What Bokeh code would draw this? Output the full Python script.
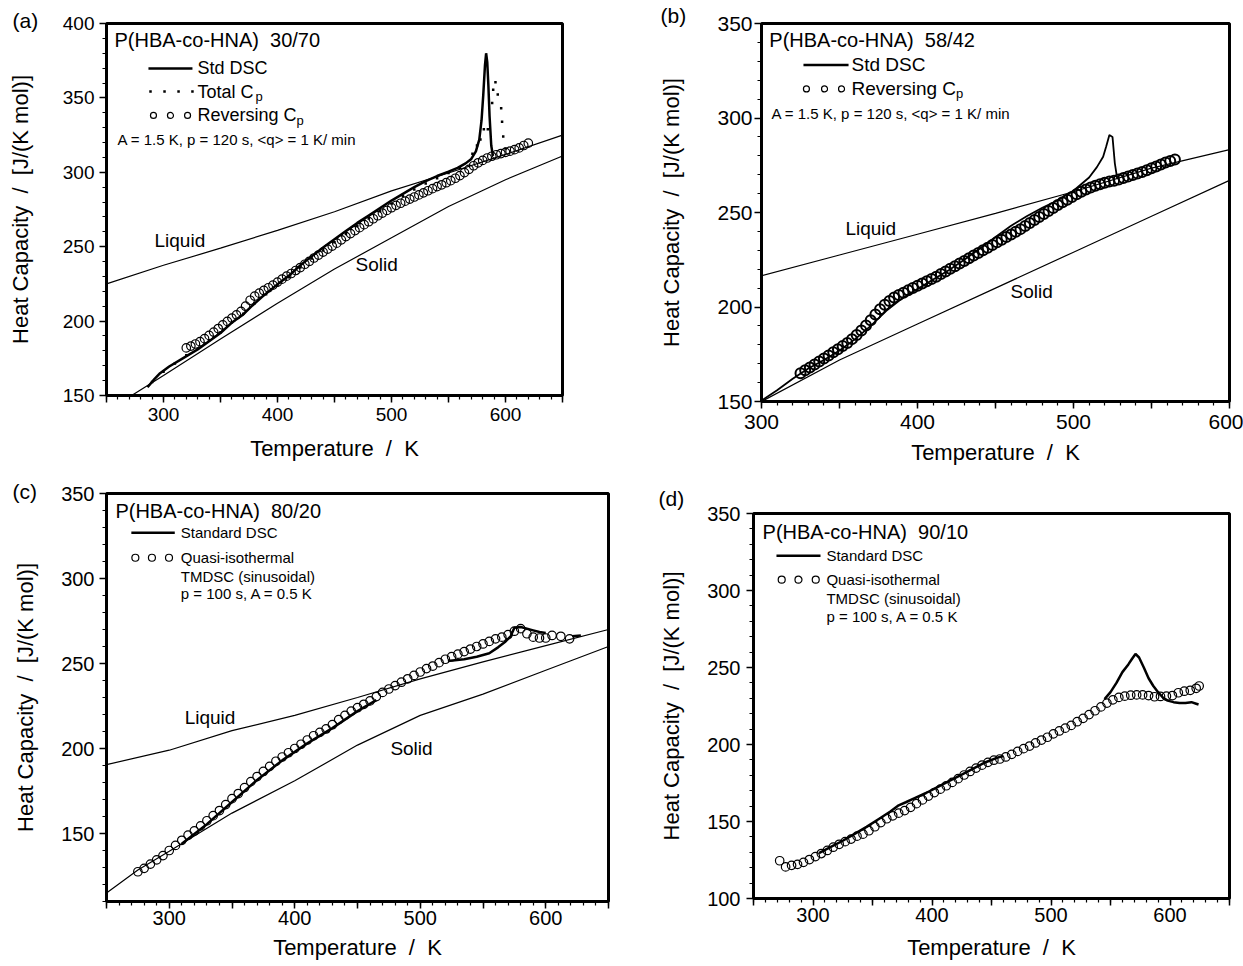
import numpy as np
from bokeh.plotting import figure
from bokeh.models import Range1d, FixedTicker
from bokeh.layouts import column, row
from bokeh.embed import file_html
from bokeh.resources import INLINE
from bokeh.core.properties import value

FONT = "Liberation Sans"
NB = "\u00a0"
nan = np.nan

# ---------------- panel (a)  P(HBA-co-HNA) 30/70 ----------------
a_liquid_T = [250, 300, 350, 400, 450, 500, 550, 600, 650]
a_liquid_cp = [225.0, 237.5, 249.0, 261.0, 273.5, 287.5, 299.5, 312.0, 325.0]
a_solid_T = [270, 300, 350, 400, 450, 500, 550, 600, 650]
a_solid_cp = [149.0, 163.5, 188.0, 212.0, 235.0, 256.0, 277.0, 295.0, 311.0]
a_dsc_T = [286, 292, 297, 305, 318, 330, 340, 350, 360, 370, 378, 386, 394, 402, 410,
           420, 430, 440, 450, 460, 470, 480, 490, 500, 510, 520, 530, 540, 550, 558,
           565, 570, 574, 577, 579, 580.5, 582, 583, 584, 585, 586, 587.5, 589]
a_dsc_cp = [155.5, 161.0, 165.0, 169.5, 175.5, 181.0, 186.5, 192.0, 199.0, 204.5, 210.5,
            216.0, 221.0, 226.0, 230.5, 237.5, 243.5, 249.5, 255.0, 260.5, 266.0, 271.0,
            276.0, 281.0, 285.5, 290.0, 294.0, 297.5, 300.5, 303.0, 306.0, 309.0, 314.0,
            322.0, 335.0, 352.0, 372.0, 380.0, 374.0, 358.0, 338.0, 318.0, 311.0]
a_total_T = [290, 300, 310, 320, 330, 340, 350, 360, 370, 380, 390, 400, 410, 420, 430,
             440, 450, 460, 470, 480, 490, 500, 510, 520, 530, 540, 550, 560, 571, 575,
             578, 581, 584.5, 588.3, 589.2, 591.2, 593.2, 596.2, 597, 598, 600]
a_total_cp = [159.0, 166.0, 171.5, 177.0, 181.5, 187.0, 192.5, 199.0, 205.0, 212.0, 218.0,
              224.0, 229.5, 236.0, 242.0, 247.5, 253.0, 258.5, 264.0, 269.0, 274.0, 279.0,
              284.0, 288.5, 292.5, 296.0, 299.5, 303.0, 312.4, 318.0, 322.0, 329.0, 329.0,
              346.6, 355.4, 360.6, 352.3, 343.0, 334.0, 324.0, 316.0]
a_rev_T = [320, 324, 328, 332, 336, 340, 344, 348, 352, 356, 360, 364, 368, 372, 376, 380,
           384, 388, 392, 396, 400, 404, 408, 412, 416, 420, 424, 428, 432, 436, 440, 444,
           448, 452, 456, 460, 464, 468, 472, 476, 480, 484, 488, 492, 496, 500, 504, 508,
           512, 516, 520, 524, 528, 532, 536, 540, 544, 548, 552, 556, 560, 564, 568, 572,
           576, 580, 584, 588, 592, 596, 600, 604, 608, 612, 616, 620]
a_rev_cp = [182.0, 183.2, 184.6, 186.2, 188.2, 190.4, 192.6, 195.0, 197.4, 199.8, 202.0,
            204.2, 206.5, 210.0, 214.0, 216.8, 218.8, 220.6, 222.4, 224.2, 226.2, 228.2,
            230.2, 232.0, 234.0, 236.0, 238.2, 240.2, 242.4, 244.4, 246.4, 248.4, 250.4,
            252.4, 254.6, 256.8, 258.8, 260.8, 262.8, 264.8, 266.8, 268.8, 270.8, 272.6,
            274.4, 276.2, 277.8, 279.2, 280.6, 282.0, 283.4, 284.8, 286.2, 287.6, 289.0,
            290.4, 291.6, 293.0, 294.4, 296.0, 297.8, 299.8, 302.0, 304.4, 306.4, 308.0,
            309.6, 310.8, 311.8, 312.6, 313.4, 314.2, 315.2, 316.4, 318.0, 319.6]

# ---------------- panel (b)  P(HBA-co-HNA) 58/42 ----------------
b_liquid_T = [300, 350, 400, 450, 500, 550, 600]
b_liquid_cp = [216.5, 227.5, 238.5, 249.5, 261.0, 273.5, 283.3]
b_solid_T = [300, 350, 400, 450, 500, 550, 600]
b_solid_cp = [150.0, 172.0, 191.0, 210.0, 229.0, 248.0, 267.0]
b_dsc_T = [300, 310, 320, 330, 340, 350, 360, 370, 380, 390, 400, 410, 420, 430, 440,
           450, 460, 470, 480, 490, 500, 510, 515, 519, 521, 523, 525, 526.5, 528]
b_dsc_cp = [150.5, 156.0, 162.0, 167.5, 172.0, 177.0, 183.0, 190.0, 198.0, 204.5, 209.5,
            214.5, 219.5, 225.0, 231.0, 237.0, 243.0, 248.0, 252.5, 256.5, 261.5, 268.5,
            274.0, 279.5, 285.0, 291.0, 290.0, 276.0, 268.0]
b_rev_T = [325, 328, 331, 334, 337, 340, 343, 346, 349, 352, 355, 358, 361, 364, 367, 370,
           373, 376, 379, 382, 385, 388, 391, 394, 397, 400, 403, 406, 409, 412, 415, 418,
           421, 424, 427, 430, 433, 436, 439, 442, 445, 448, 451, 454, 457, 460, 463, 466,
           469, 472, 475, 478, 481, 484, 487, 490, 493, 496, 499, 502, 505, 508, 511, 514,
           517, 520, 523, 526, 529, 532, 535, 538, 541, 544, 547, 550, 553, 556, 559, 562,
           565]
b_rev_cp = [165.0, 166.5, 168.0, 169.6, 171.2, 172.8, 174.4, 176.0, 177.6, 179.3, 181.0,
            183.0, 185.2, 187.6, 190.2, 193.0, 196.0, 198.8, 201.2, 203.2, 205.0, 206.4,
            207.6, 208.8, 210.0, 211.2, 212.4, 213.6, 214.8, 216.0, 217.4, 218.8, 220.2,
            221.6, 223.0, 224.4, 225.8, 227.2, 228.6, 230.0, 231.4, 232.8, 234.2, 235.6,
            237.0, 238.4, 239.8, 241.2, 242.8, 244.4, 246.0, 247.6, 249.2, 250.8, 252.4,
            254.0, 255.4, 256.8, 258.2, 259.6, 261.0, 262.2, 263.2, 264.2, 265.0, 265.8,
            266.4, 266.8, 267.4, 268.2, 269.0, 269.8, 270.6, 271.4, 272.4, 273.4, 274.4,
            275.4, 276.4, 277.2, 278.0]

# ---------------- panel (c)  P(HBA-co-HNA) 80/20 ----------------
c_liquid_T = [250, 300, 350, 400, 450, 500, 550, 600, 650]
c_liquid_cp = [190.5, 199.0, 210.5, 219.5, 230.0, 241.0, 251.0, 260.5, 270.0]
c_solid_T = [250, 275, 300, 350, 400, 450, 500, 550, 600, 650]
c_solid_cp = [115.0, 128.5, 139.5, 162.0, 181.0, 202.0, 219.5, 232.0, 246.0, 260.0]
c_dsc_T = [310, 330, 350, 370, 390, 410, 430, 450, 465, nan, 522, 535, 545, 555, 562, 568,
           572, 575, 580, 585, 590, 595, 600, nan, 621, 628]
c_dsc_cp = [144.0, 155.5, 168.5, 181.5, 193.0, 203.0, 212.0, 222.0, 228.5, nan, 251.5,
            252.5, 254.0, 256.0, 259.5, 263.0, 266.0, 271.0, 271.5, 270.5, 269.5, 268.5,
            268.0, nan, 266.0, 266.5]
c_rev_T = [275, 280, 285, 290, 295, 300, 305, 310, 315, 320, 325, 330, 335, 340, 345, 350,
           355, 360, 365, 370, 375, 380, 385, 390, 395, 400, 405, 410, 415, 420, 425, 430,
           435, 440, 445, 450, 455, 460, 465, 470, 475, 480, 485, 490, 495, 500, 505, 510,
           515, 520, 525, 530, 535, 540, 545, 550, 555, 560, 565, 570, 575, 580, 585, 590,
           595, 600, 605, 612, 619]
c_rev_cp = [127.5, 129.5, 132.0, 134.5, 137.0, 140.0, 143.0, 146.0, 149.0, 151.5, 154.5,
            157.5, 160.5, 163.5, 167.0, 170.5, 173.5, 177.0, 180.5, 183.5, 186.5, 189.5,
            192.5, 195.0, 197.5, 200.0, 202.5, 205.0, 207.5, 209.5, 211.5, 214.0, 217.0,
            219.5, 222.0, 224.0, 226.0, 228.0, 230.5, 233.0, 235.0, 237.0, 239.0, 241.0,
            243.0, 245.0, 247.0, 248.5, 250.5, 252.5, 254.0, 255.5, 257.0, 258.5, 260.0,
            261.5, 263.0, 264.5, 265.5, 267.0, 269.0, 270.5, 267.5, 265.5, 265.0, 265.0,
            266.5, 266.0, 264.5]

# ---------------- panel (d)  P(HBA-co-HNA) 90/10 ----------------
d_dsc_T = [305, 315, 325, 335, 345, 355, 365, 372, 378, 385, 395, 405, 415, 425, 435, 445,
           455, 460, nan, 545, 550, 555, 560, 565, 568, 571, 574, 578, 582, 586, 590, 594,
           598, 603, 608, 613, 618, 622, 624]
d_dsc_cp = [129.5, 133.5, 137.5, 142.0, 146.5, 151.5, 156.5, 160.5, 162.5, 165.0, 168.5,
            172.5, 176.5, 180.5, 184.5, 188.5, 191.5, 192.5, nan, 229.5, 234.0, 240.0,
            247.0, 252.0, 255.5, 258.8, 256.5, 250.0, 243.0, 238.0, 234.0, 230.5, 228.5,
            227.5, 227.0, 227.0, 227.5, 226.5, 226.0]
d_rev_T = [272, 277, 282, 287, 292, 297, 302, 307, 312, 317, 322, 327, 332, 337, 342, 347,
           352, 357, 362, 367, 372, 377, 382, 387, 392, 397, 402, 407, 412, 417, 422, 427,
           432, 437, 442, 447, 452, 457, 462, 467, 472, 477, 482, 487, 492, 497, 502, 507,
           512, 517, 522, 527, 532, 537, 542, 547, 552, 557, 562, 567, 572, 577, 582, 587,
           592, 597, 602, 607, 612, 617, 622, 624.5]
d_rev_cp = [124.5, 120.5, 121.5, 122.2, 123.5, 125.3, 127.2, 129.2, 131.2, 133.3, 135.2,
            136.9, 138.6, 140.5, 141.8, 144.0, 146.6, 149.3, 151.8, 153.7, 155.4, 157.1,
            159.2, 161.6, 164.0, 166.5, 168.8, 171.0, 173.2, 175.4, 177.8, 180.2, 182.5,
            184.7, 186.6, 188.4, 189.8, 190.6, 191.9, 193.6, 195.5, 197.3, 199.0, 201.0,
            202.9, 204.7, 206.9, 208.8, 210.6, 212.4, 214.8, 217.0, 219.4, 221.9, 224.4,
            226.9, 229.0, 230.6, 231.4, 232.0, 232.2, 232.2, 231.8, 231.0, 231.2, 231.4,
            231.8, 233.6, 234.6, 235.2, 236.5, 238.0]

X_TITLE = "Temperature" + NB + NB + "/" + NB + NB + "K"
Y_TITLE = "Heat Capacity" + NB + NB + "/" + NB + NB + "[J/(K mol)]"


def make_fig(width, height, left, right, top, bottom, xr, yr, tick_px,
             x_std=10, x_lstd=3, y_std=5, y_lstd=27):
    p = figure(width=width, height=height, x_range=Range1d(*xr), y_range=Range1d(*yr),
               toolbar_location=None, output_backend="svg",
               min_border_left=left, min_border_right=right,
               min_border_top=top, min_border_bottom=bottom)
    p.background_fill_color = "white"
    p.border_fill_color = "white"
    p.outline_line_color = "black"
    p.outline_line_width = 3
    p.xgrid.visible = False
    p.ygrid.visible = False
    xmaj = [v for v in range(int(xr[0]), int(xr[1]) + 1) if v % 50 == 0]
    xmin = [v for v in range(int(xr[0]), int(xr[1]) + 1) if v % 10 == 0]
    ymaj = [v for v in range(int(yr[0]), int(yr[1]) + 1) if v % 50 == 0]
    ymin = [v for v in range(int(yr[0]), int(yr[1]) + 1) if v % 10 == 0]
    p.xaxis.ticker = FixedTicker(ticks=xmaj, minor_ticks=xmin)
    p.yaxis.ticker = FixedTicker(ticks=ymaj, minor_ticks=ymin)
    p.xaxis.major_label_overrides = {v: "" for v in xmaj if v % 100 != 0}
    for ax in (p.xaxis[0], p.yaxis[0]):
        ax.axis_line_width = 2.5
        ax.axis_line_color = "black"
        ax.major_tick_line_width = 1.5
        ax.minor_tick_line_width = 1.2
        ax.major_tick_in = 0
        ax.major_tick_out = 7
        ax.minor_tick_in = 0
        ax.minor_tick_out = 4
        ax.major_label_text_font = FONT
        ax.major_label_text_font_size = f"{tick_px}px"
        ax.major_label_text_color = "black"
        ax.axis_label_text_font = FONT
        ax.axis_label_text_font_size = "22px"
        ax.axis_label_text_font_style = "normal"
        ax.axis_label_text_color = "black"
    p.xaxis.major_label_standoff = x_lstd
    p.xaxis.axis_label = X_TITLE
    p.xaxis.axis_label_standoff = x_std
    p.yaxis.major_label_standoff = y_std
    p.yaxis.axis_label = Y_TITLE
    p.yaxis.axis_label_standoff = y_lstd
    return p


def panel_tag(p, s, offset, standoff):
    t = p.title
    t.text = s
    t.align = "left"
    t.offset = offset
    t.text_font = FONT
    t.text_font_size = "21px"
    t.text_font_style = "normal"
    t.text_color = "black"
    t.vertical_align = "bottom"
    try:
        t.standoff = standoff
    except Exception:
        t.standoff = 0


def txt(p, x, y, s, size, align="left", baseline="middle", xo=0, yo=0):
    p.text(x=[x], y=[y], text=[s], text_font=value(FONT), text_font_size=value(f"{size}px"),
           text_align=align, text_baseline=baseline, x_offset=xo, y_offset=yo,
           text_color="black")


def ref_lines(p, lt, lc, st, sc):
    p.line(lt, lc, line_color="black", line_width=1.2)
    p.line(st, sc, line_color="black", line_width=1.2)


# ---------------- figure (a) ----------------
pa = make_fig(628, 478, 106, 66, 23, 83, (250, 650), (150, 400), 19,
              x_std=12, x_lstd=5, y_std=5, y_lstd=27)
panel_tag(pa, "(a)", -94, -16)
ref_lines(pa, a_liquid_T, a_liquid_cp, a_solid_T, a_solid_cp)
pa.line(a_dsc_T, a_dsc_cp, line_color="black", line_width=2.5)
pa.scatter(a_total_T, a_total_cp, marker="square", size=2.5, fill_color="black", line_color=None)
pa.scatter(a_rev_T, a_rev_cp, marker="circle", size=8.5, fill_color=None,
           line_color="black", line_width=1.2)
txt(pa, 257.0, 389.2, "P(HBA-co-HNA)" + NB + NB + "30/70", 20)
pa.line([286.8, 325.4], [369.8, 369.8], line_color="black", line_width=2.5)
txt(pa, 329.8, 369.8, "Std DSC", 18)
pa.scatter([288.6, 300.9, 313.2, 325.4], [354.3] * 4, marker="square", size=2.5,
           fill_color="black", line_color=None)
txt(pa, 329.8, 354.3, "Total C", 18)
txt(pa, 329.8, 354.3, "p", 13, xo=58, yo=5)
pa.scatter([291.2, 306.1, 321.1], [338.2] * 3, marker="circle", size=6, fill_color=None,
           line_color="black", line_width=1.2)
txt(pa, 329.8, 338.2, "Reversing C", 18)
txt(pa, 329.8, 338.2, "p", 13, xo=99, yo=5)
txt(pa, 259.6, 322.0, "A = 1.5 K, p = 120 s, <q> = 1 K/ min", 15)
txt(pa, 292.1, 254.2, "Liquid", 19)
txt(pa, 468.4, 238.0, "Solid", 19)

# ---------------- figure (b) ----------------
pb = make_fig(615, 478, 133, 14, 23, 77, (300, 600), (150, 350), 21,
              x_std=8, x_lstd=6, y_std=2, y_lstd=30)
panel_tag(pb, "(b)", -101, -7)
ref_lines(pb, b_liquid_T, b_liquid_cp, b_solid_T, b_solid_cp)
pb.line(b_dsc_T, b_dsc_cp, line_color="black", line_width=1.8)
pb.scatter(b_rev_T, b_rev_cp, marker="circle", size=10, fill_color=None,
           line_color="black", line_width=2.0)
txt(pb, 305.0, 341.4, "P(HBA-co-HNA)" + NB + NB + "58/42", 20)
pb.line([326.9, 355.8], [328.1, 328.1], line_color="black", line_width=2.5)
txt(pb, 357.7, 328.1, "Std DSC", 19)
pb.scatter([328.8, 340.4, 351.3], [315.4] * 3, marker="circle", size=6, fill_color=None,
           line_color="black", line_width=1.2)
txt(pb, 357.7, 315.4, "Reversing C", 19)
txt(pb, 357.7, 315.4, "p", 13, xo=104.5, yo=5)
txt(pb, 306.4, 302.5, "A = 1.5 K, p = 120 s, <q> = 1 K/ min", 15)
txt(pb, 353.8, 241.5, "Liquid", 19)
txt(pb, 459.6, 208.0, "Solid", 19)

# ---------------- figure (c) ----------------
pc = make_fig(628, 488, 106, 20, 15, 65, (250, 650), (110, 350), 20,
              x_std=7, x_lstd=2, y_std=5, y_lstd=20)
panel_tag(pc, "(c)", -94, -19)
ref_lines(pc, c_liquid_T, c_liquid_cp, c_solid_T, c_solid_cp)
pc.line(c_dsc_T, c_dsc_cp, line_color="black", line_width=2.5)
pc.scatter(c_rev_T, c_rev_cp, marker="circle", size=8.5, fill_color=None,
           line_color="black", line_width=1.2)
txt(pc, 257.1, 340.0, "P(HBA-co-HNA)" + NB + NB + "80/20", 20)
pc.line([269.8, 304.4], [326.9, 326.9], line_color="black", line_width=2.5)
txt(pc, 309.2, 326.9, "Standard DSC", 15)
pc.scatter([273.0, 286.2, 299.8], [312.2] * 3, marker="circle", size=7, fill_color=None,
           line_color="black", line_width=1.2)
txt(pc, 309.2, 312.2, "Quasi-isothermal", 15)
txt(pc, 309.2, 301.2, "TMDSC (sinusoidal)", 15)
txt(pc, 309.2, 291.0, "p = 100 s, A = 0.5 K", 15)
txt(pc, 312.3, 218.2, "Liquid", 19)
txt(pc, 476.2, 200.0, "Solid", 19)

# ---------------- figure (d) ----------------
pd_ = make_fig(615, 488, 125, 14, 35, 68, (250, 650), (100, 350), 20,
               x_std=10, x_lstd=2, y_std=6, y_lstd=20)
panel_tag(pd_, "(d)", -95, 8)
pd_.line(d_dsc_T, d_dsc_cp, line_color="black", line_width=2.5)
pd_.scatter(d_rev_T, d_rev_cp, marker="circle", size=8.5, fill_color=None,
            line_color="black", line_width=1.2)
txt(pd_, 257.6, 337.8, "P(HBA-co-HNA)" + NB + NB + "90/10", 20)
pd_.line([269.3, 306.3], [322.6, 322.6], line_color="black", line_width=2.5)
txt(pd_, 311.3, 322.6, "Standard DSC", 15)
pd_.scatter([273.7, 287.8, 302.3], [307.0] * 3, marker="circle", size=7, fill_color=None,
            line_color="black", line_width=1.2)
txt(pd_, 311.3, 307.0, "Quasi-isothermal", 15)
txt(pd_, 311.3, 294.9, "TMDSC (sinusoidal)", 15)
txt(pd_, 311.3, 282.9, "p = 100 s, A = 0.5 K", 15)

# each figure wrapped in its own column so that the row does not align the frames
layout = column(row(column(pa), column(pb)), row(column(pc), column(pd_)))
open("out.html", "w").write(file_html(layout, INLINE))
